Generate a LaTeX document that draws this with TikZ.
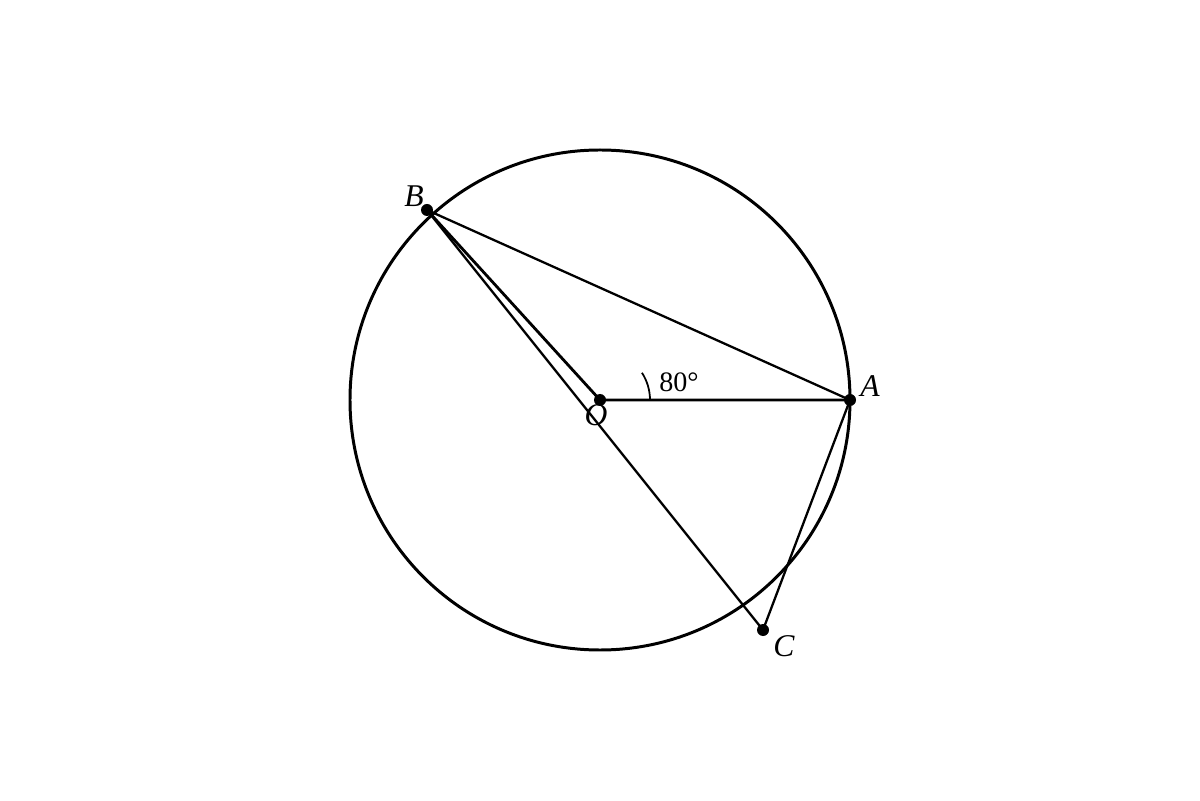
\documentclass[tikz,border=0pt]{standalone}
\usepackage{fontspec}
\setmainfont{Liberation Serif}
\usetikzlibrary{positioning}

\begin{document}
\begin{tikzpicture}
    \useasboundingbox (-12,-8) rectangle (12,8);

    % Points
    \coordinate (O) at (0,0);
    \coordinate (A) at (5,0);
    \coordinate (B) at (-3.46,3.8);
    \coordinate (C) at (3.26,-4.6);

    % Circle
    \draw[line width=1.7pt] (O) circle (5);

    % Segments
    \draw[line width=1.6pt] (B) -- (O) -- (A);
    \draw[line width=1.3pt] (B) -- (A) -- (C) -- (B);

    % Angle mark
    \draw[line width=1pt] (1,0) arc (0:33:1);

    % Dots
    \foreach \p in {O,A,B,C}
        \fill (\p) circle (0.12);

    % Labels
    \node[font=\fontsize{18}{20}\selectfont\itshape] (labB) at (-3.72,4.07) {B};
    \node[font=\fontsize{18}{20}\selectfont\itshape] (labA) at (5.4,0.28) {A};
    \node[font=\fontsize{18}{20}\selectfont\itshape] (labC) at (3.68,-4.92) {C};
    \node[font=\fontsize{18}{20}\selectfont\itshape] (labO) at (-0.08,-0.3) {O};
    \node[font=\fontsize{16}{18}\selectfont] (ang) at (1.58,0.35) {80°};
\end{tikzpicture}
\end{document}
